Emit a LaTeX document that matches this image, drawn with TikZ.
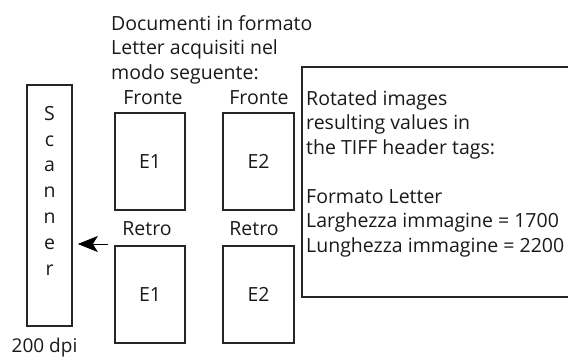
\documentclass[tikz,border=0pt]{standalone}
\usepackage{fontspec}
\setmainfont{Open Sans}
\usetikzlibrary{arrows.meta}
\begin{document}
\begin{tikzpicture}[x=1pt,y=-1pt,
  box/.style={draw=black!85,line width=1.7pt,inner sep=0pt},
  txt/.style={font=\fontsize{19.5}{24.5}\selectfont,inner sep=0pt,text=black!90},
  page/.style={box,txt,minimum width=70,minimum height=97}]
\useasboundingbox (0,0) rectangle (568,360);
% scanner
\node[box,minimum width=45,minimum height=241] (scan) at (49.5,205.5) {};
\node[txt,align=center,anchor=north,font=\fontsize{19.5}{25.8}\selectfont] (scantext) at (49.5,106) {S\\c\\a\\n\\n\\e\\r};
\node[txt,font=\fontsize{19}{24}\selectfont] (dpi) at (44.5,348) {200 dpi};
% title
\node[txt,align=left,anchor=north west] (title) at (111,15) {Documenti in formato\\Letter acquisiti nel\\modo seguente:};
% pages
\node[page] (f1) at (150,161.5) {E1};
\node[page,minimum width=71] (f2) at (258.5,161.5) {E2};
\node[page] (b1) at (150,294.5) {E1};
\node[page,minimum width=71] (b2) at (258.5,294.5) {E2};
\node[txt] (lf1) at (153,98) {Fronte};
\node[txt] (lf2) at (259,98) {Fronte};
\node[txt] (lb1) at (147,229) {Retro};
\node[txt] (lb2) at (254,229) {Retro};
% arrow
\coordinate (astart) at (108,244);
\draw[line width=0.7pt,-{Stealth[length=20pt,width=16pt,inset=5pt]}] (astart) -- ([xshift=5pt]scan.east |- astart);
% info box
\draw[box] (302,67) rectangle (580,297);
\node[txt,align=left,anchor=north west] (info) at (306,90) {Rotated images\\resulting values in\\the TIFF header tags:\\[24.5pt]Formato Letter\\Larghezza immagine = 1700\\Lunghezza immagine = 2200};
\end{tikzpicture}
\end{document}
